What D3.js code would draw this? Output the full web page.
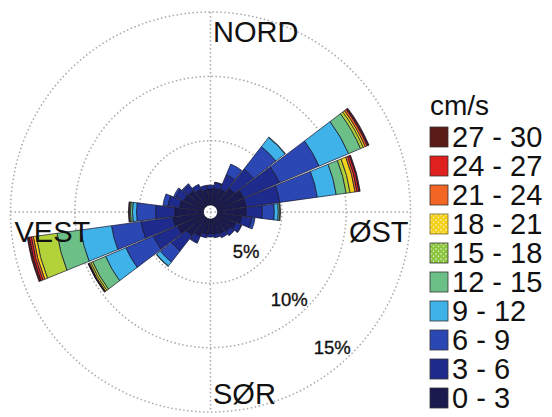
<!DOCTYPE html>
<html>
<head>
<meta charset="utf-8">
<script src="https://cdn.jsdelivr.net/npm/d3@7"></script>
<style>
  body { margin: 0; background: #fff; }
  #container { width: 552px; height: 417px; }
  text { font-family: "Liberation Sans", Arial, sans-serif; }
</style>
</head>
<body>
<div id="container"></div>
<script>
'use strict';
// directions (compass bearing, 15 degree sectors)
var directions = [0, 15, 30, 45, 60, 75, 90, 105, 120, 135, 150, 165,
                  180, 195, 210, 225, 240, 255, 270, 285, 300, 315, 330, 345];
var speedBins = ['0 - 3', '3 - 6', '6 - 9', '9 - 12', '12 - 15',
                 '15 - 18', '18 - 21', '21 - 24', '24 - 27', '27 - 30'];
// percent of time per direction, one array per speed bin
var s0_3   = [1.25, 1.3, 1.4, 1.8, 2.25, 2.25, 2.25, 1.9, 1.6, 1.4, 1.3, 1.2,
              1.15, 1.2, 1.5, 1.8, 2.25, 2.41, 2.25, 1.9, 1.7, 1.6, 1.35, 1.2];
var s3_6   = [0.3, 0.45, 1.2, 1.9, 3.03, 2.64, 1.24, 0.8, 0.45, 0.4, 0.33, 0.28,
              0.25, 0.28, 0.5, 1.5, 2.02, 2.49, 1.48, 0.9, 0.7, 0.55, 0.44, 0.35];
var s6_9   = [0, 0.05, 0.9, 2.2, 3.34, 2.95, 0.93, 0.25, 0.05, 0, 0, 0,
              0, 0, 0.1, 1.1, 2.33, 2.33, 1.48, 0.39, 0.16, 0.1, 0, 0];
var s9_12  = [0, 0, 0, 0.9, 2.49, 1.48, 0.31, 0, 0, 0, 0, 0,
              0, 0, 0, 0.38, 1.71, 2.41, 0.31, 0, 0, 0, 0, 0];
var s12_15 = [0, 0, 0, 0.04, 1.01, 0.78, 0.12, 0, 0, 0, 0, 0,
              0, 0, 0, 0.04, 1.09, 1.86, 0.16, 0, 0, 0, 0, 0];
var s15_18 = [0, 0, 0, 0, 0.23, 0.31, 0.05, 0, 0, 0, 0, 0,
              0, 0, 0, 0, 0.16, 1.63, 0.08, 0, 0, 0, 0, 0];
var s18_21 = [0, 0, 0, 0, 0.16, 0.39, 0, 0, 0, 0, 0, 0,
              0, 0, 0, 0, 0.12, 0.23, 0.04, 0, 0, 0, 0, 0];
var s21_24 = [0, 0, 0, 0, 0.16, 0.16, 0, 0, 0, 0, 0, 0,
              0, 0, 0, 0, 0.05, 0.16, 0.03, 0, 0, 0, 0, 0];
var s24_27 = [0, 0, 0, 0, 0.08, 0.16, 0, 0, 0, 0, 0, 0,
              0, 0, 0, 0, 0.03, 0.16, 0, 0, 0, 0, 0, 0];
var s27_30 = [0, 0, 0, 0, 0.08, 0.08, 0, 0, 0, 0, 0, 0,
              0, 0, 0, 0, 0.03, 0.16, 0, 0, 0, 0, 0, 0];
var ringTicks = [5, 10, 15];
var compassLabels = ['NORD', 'ØST', 'SØR', 'VEST'];

(function() {
    var binColors = ['#1b1a4f', '#1f2b8c', '#2a47b4', '#3fb2ea', '#6cc087',
                     '#b3d23a', '#f2d41e', '#f26522', '#e0201f', '#5a1a16'];
    var series = [s0_3, s3_6, s6_9, s9_12, s12_15, s15_18, s18_21, s21_24, s24_27, s27_30];

    var width = 552, height = 417;
    var cx = 210.5, cy = 212;

    var svg = d3.select('#container').append('svg')
        .attr('width', width)
        .attr('height', height);

    // radius scale: percent -> px, with a small hole in the middle
    var r = d3.scaleLinear().domain([0, 15]).range([7, 200]);

    var plot = svg.append('g').attr('transform', 'translate(' + cx + ',' + cy + ')');

    // grid: dotted rings + cross
    var grid = plot.append('g').attr('class', 'grid')
        .attr('fill', 'none')
        .attr('stroke', '#a8a8a8')
        .attr('stroke-width', 1.5)
        .attr('stroke-dasharray', '1.5,2.5');
    grid.selectAll('circle')
        .data(ringTicks)
        .enter().append('circle')
        .attr('r', function(d) { return r(d); });
    grid.append('line').attr('x1', -r(15)).attr('x2', r(15)).attr('y1', 0).attr('y2', 0);
    grid.append('line').attr('y1', -r(15)).attr('y2', r(15)).attr('x1', 0).attr('x2', 0);

    // stack the bins per direction
    var segs = [];
    directions.forEach(function(dir, i) {
        var cum = 0;
        series.forEach(function(s, b) {
            var v = s[i];
            if (v > 0) {
                segs.push({dir: dir, bin: b, start: cum, end: cum + v});
            }
            cum += v;
        });
    });

    var half = 7.1 * Math.PI / 180;
    var arc = d3.arc()
        .innerRadius(function(d) { return r(d.start); })
        .outerRadius(function(d) { return r(d.end); })
        .startAngle(function(d) { return d.dir * Math.PI / 180 - half; })
        .endAngle(function(d) { return d.dir * Math.PI / 180 + half; });

    plot.append('g').attr('class', 'sectors')
        .selectAll('path')
        .data(segs)
        .enter().append('path')
        .attr('d', arc)
        .attr('fill', function(d) { return binColors[d.bin]; })
        .attr('stroke', '#14142a')
        .attr('stroke-width', 0.7)
        .attr('stroke-linejoin', 'round');

    // percent labels along the SE diagonal
    var labAng = 138 * Math.PI / 180;
    plot.selectAll('.pct')
        .data(ringTicks)
        .enter().append('text')
        .attr('class', 'pct')
        .attr('x', function(d) { return Math.sin(labAng) * (r(d) - 18); })
        .attr('y', function(d) { return -Math.cos(labAng) * (r(d) - 18); })
        .attr('text-anchor', 'middle')
        .attr('dy', '0.36em')
        .attr('font-size', 18.5)
        .attr('fill', '#111')
        .attr('stroke', '#111')
        .attr('stroke-width', 0.35)
        .text(function(d) { return d + '%'; });

    // compass labels
    var lab = [
        {t: compassLabels[0], x: 2.5, y: -170, a: 'start'},
        {t: compassLabels[1], x: 198, y: 30, a: 'end'},
        {t: compassLabels[2], x: 2.5, y: 192, a: 'start'},
        {t: compassLabels[3], x: -196, y: 30, a: 'start'}
    ];
    plot.selectAll('.compass')
        .data(lab)
        .enter().append('text')
        .attr('class', 'compass')
        .attr('x', function(d) { return d.x; })
        .attr('y', function(d) { return d.y; })
        .attr('text-anchor', function(d) { return d.a; })
        .attr('font-size', 29)
        .attr('fill', '#111')
        .text(function(d) { return d.t; });

    // legend
    var defs = svg.append('defs');
    function speckle(id, base) {
        var p = defs.append('pattern').attr('id', id)
            .attr('width', 5).attr('height', 5)
            .attr('patternUnits', 'userSpaceOnUse');
        p.append('rect').attr('width', 5).attr('height', 5).attr('fill', base);
        p.append('circle').attr('cx', 1).attr('cy', 1).attr('r', 0.7).attr('fill', '#fff');
        p.append('circle').attr('cx', 3.5).attr('cy', 3.2).attr('r', 0.6).attr('fill', '#fff');
    }
    speckle('pat15', '#8cc63f');
    speckle('pat18', '#f4d21c');

    var legend = svg.append('g').attr('transform', 'translate(430,0)');
    legend.append('text')
        .attr('x', 0).attr('y', 115)
        .attr('font-size', 28)
        .attr('fill', '#111')
        .text('cm/s');

    var rowY = d3.scaleLinear().domain([9, 0]).range([137, 398]);
    var rows = legend.selectAll('.row')
        .data(speedBins)
        .enter().append('g')
        .attr('class', 'row')
        .attr('transform', function(d, i) { return 'translate(0,' + rowY(i) + ')'; });
    rows.append('rect')
        .attr('x', 0).attr('y', -10)
        .attr('width', 18).attr('height', 20)
        .attr('fill', function(d, i) {
            if (i === 5) return 'url(#pat15)';
            if (i === 6) return 'url(#pat18)';
            return binColors[i];
        })
        .attr('stroke', function(d, i) { return i === 6 ? '#7a6a2a' : '#333'; })
        .attr('stroke-width', 0.8);
    rows.append('text')
        .attr('x', 22).attr('y', 0)
        .attr('dy', '0.36em')
        .attr('font-size', 29)
        .attr('fill', '#111')
        .text(function(d) { return d; });
})();
</script>
</body>
</html>
